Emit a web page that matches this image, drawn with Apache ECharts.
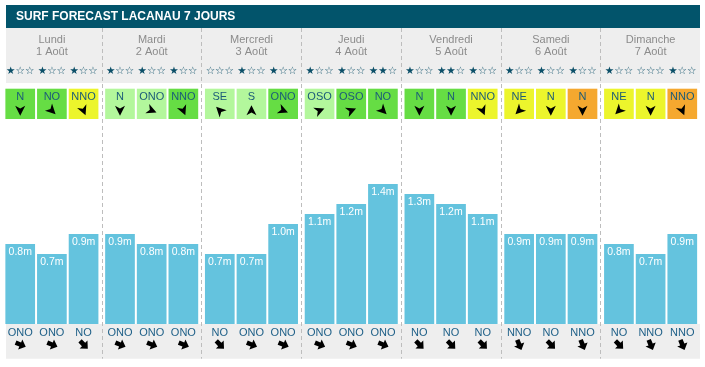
<!DOCTYPE html>
<html><head><meta charset="utf-8">
<script src="https://cdn.jsdelivr.net/npm/echarts@6/dist/echarts.min.js"></script>
<style>html,body{margin:0;padding:0;background:#fff}#c{width:705px;height:367px}</style>
</head><body><div id="c"></div>
<script>
// ---------- DATA ----------
const chartTitle = 'SURF FORECAST LACANAU 7 JOURS';
const days = ['Lundi', 'Mardi', 'Mercredi', 'Jeudi', 'Vendredi', 'Samedi', 'Dimanche'];
const dates = ['1 Août', '2 Août', '3 Août', '4 Août', '5 Août', '6 Août', '7 Août'];
// three forecast slots per day (21 values)
const waveHeights = [0.8, 0.7, 0.9, 0.9, 0.8, 0.8, 0.7, 0.7, 1.0, 1.1, 1.2, 1.4, 1.3, 1.2, 1.1, 0.9, 0.9, 0.9, 0.8, 0.7, 0.9];
const starRatings = [1, 1, 1, 1, 1, 1, 0, 1, 1, 1, 1, 2, 1, 2, 1, 1, 1, 1, 1, 0, 1];
const windDirs = ['N', 'NO', 'NNO', 'N', 'ONO', 'NNO', 'SE', 'S', 'ONO', 'OSO', 'OSO', 'NO', 'N', 'N', 'NNO', 'NE', 'N', 'N', 'NE', 'N', 'NNO'];
const windQuality = ['green', 'green', 'yellow', 'light', 'light', 'green', 'light', 'light', 'green', 'light', 'green', 'green', 'green', 'green', 'yellow', 'yellow', 'yellow', 'orange', 'yellow', 'yellow', 'orange'];
const swellDirs = ['ONO', 'ONO', 'NO', 'ONO', 'ONO', 'ONO', 'NO', 'ONO', 'ONO', 'ONO', 'ONO', 'ONO', 'NO', 'NO', 'NO', 'NNO', 'NO', 'NNO', 'NO', 'NNO', 'NNO'];

// ---------- STYLE ----------
const bearings = {N: 0, NNE: 22.5, NE: 45, ENE: 67.5, E: 90, ESE: 112.5, SE: 135, SSE: 157.5, S: 180, SSO: 202.5, SO: 225, OSO: 247.5, O: 270, ONO: 292.5, NO: 315, NNO: 337.5};
const windColors = {green: '#66dd44', light: '#b3f79c', yellow: '#ecf52c', orange: '#f5a82f'};
const BAR_PCT = 0.2975, GAP_PCT = 0.067;
const WIND_ARROW = 'M0,-5.2 L5,4.8 L0,2 L-5,4.8 Z';
const SWELL_ARROW = 'M0,-6 L5.5,0 L2.3,0 L2.3,5 L-2.3,5 L-2.3,0 L-5.5,0 Z';
const SLOTS = 3;

function arrowRot(dir) { return -((bearings[dir] + 180) % 360) * Math.PI / 180; }
function slotPos(api, i) {
  const d = Math.floor(i / SLOTS), s = i % SLOTS;
  const cx = api.coord([d, 0])[0];
  const bw = api.size([1, 0])[0] * BAR_PCT;
  return {x: cx + (s - 1) * bw * (1 + GAP_PCT), bw: bw};
}
const slotData = waveHeights.map((_, i) => [Math.floor(i / SLOTS), 0.5]);

const L = 2, R = 4.5;
const grids = [
  {left: L, right: R, top: 124, height: 200},      // bars
  {left: L, right: R, top: 88.7, height: 30.3},    // wind boxes
  {left: L, right: R, top: 28, height: 330.7},     // header + separators
  {left: L, right: R, top: 324, height: 34.7},     // swell direction band
  {left: L, right: R, top: 64, height: 14}         // stars
];
const xAxes = grids.map((g, k) => ({
  type: 'category', gridIndex: k, data: days, show: k === 2,
  position: 'top',
  axisLine: {show: false}, axisTick: {show: false},
  axisLabel: k === 2 ? {
    show: true, inside: true, margin: 6, interval: 0,
    color: '#8b8b8b', fontSize: 11, lineHeight: 12, fontFamily: 'Arial',
    formatter: (v, idx) => v + '\n' + dates[idx]
  } : {show: false},
  splitLine: k === 2 ? {
    show: true, interval: 0, showMinLine: false, showMaxLine: false,
    lineStyle: {color: '#bdbdbd', width: 1, type: [4, 3]}
  } : {show: false}
}));
const yAxes = grids.map((g, k) => ({
  type: 'value', gridIndex: k, show: false, min: 0, max: k === 0 ? 2 : 1
}));

const barSeries = [0, 1, 2].map(s => ({
  type: 'bar', xAxisIndex: 0, yAxisIndex: 0,
  data: days.map((_, d) => waveHeights[d * SLOTS + s]),
  barWidth: (BAR_PCT * 100) + '%', barGap: (GAP_PCT * 100) + '%',
  itemStyle: {color: '#64c3de'},
  label: {
    show: true, position: 'insideTop', distance: 3,
    color: '#ffffff', fontSize: 10.5, fontFamily: 'Arial',
    formatter: p => Number(p.value).toFixed(1) + 'm'
  }
}));

const windSeries = {
  type: 'custom', xAxisIndex: 1, yAxisIndex: 1, data: slotData,
  renderItem(params, api) {
    const i = params.dataIndex;
    const p = slotPos(api, i);
    const top = api.coord([0, 1])[1], bottom = api.coord([0, 0])[1];
    const h = bottom - top;
    return {type: 'group', children: [
      {type: 'rect', shape: {x: p.x - p.bw / 2, y: top, width: p.bw, height: h}, style: {fill: windColors[windQuality[i]]}},
      {type: 'text', x: p.x, y: top + 8.2, style: {text: windDirs[i], fill: '#1b5b78', fontSize: 11, fontFamily: 'Arial', align: 'center', verticalAlign: 'middle'}},
      {type: 'path', x: p.x, y: top + 21.8, rotation: arrowRot(windDirs[i]), shape: {pathData: WIND_ARROW}, style: {fill: '#000'}}
    ]};
  }
};

const swellSeries = {
  type: 'custom', xAxisIndex: 3, yAxisIndex: 3, data: slotData,
  renderItem(params, api) {
    const i = params.dataIndex;
    const p = slotPos(api, i);
    const top = api.coord([0, 1])[1];
    return {type: 'group', children: [
      {type: 'text', x: p.x, y: top + 8.5, style: {text: swellDirs[i], fill: '#1f6088', fontSize: 11, fontFamily: 'Arial', align: 'center', verticalAlign: 'middle'}},
      {type: 'path', x: p.x, y: top + 20.5, rotation: arrowRot(swellDirs[i]), shape: {pathData: SWELL_ARROW}, style: {fill: '#000'}}
    ]};
  }
};

const starSeries = {
  type: 'custom', xAxisIndex: 4, yAxisIndex: 4, data: slotData,
  renderItem(params, api) {
    const i = params.dataIndex;
    const p = slotPos(api, i);
    const y = api.coord([0, 0.5])[1];
    const n = starRatings[i];
    return {type: 'text', x: p.x, y: y, style: {
      text: '★'.repeat(n) + '☆'.repeat(3 - n), fill: '#0b4f68',
      fontSize: 10.5, fontFamily: 'DejaVu Sans', align: 'center', verticalAlign: 'middle'
    }};
  }
};

const chart = echarts.init(document.getElementById('c'), null, {renderer: 'canvas'});
chart.setOption({
  animation: false,
  backgroundColor: '#ffffff',
  title: {
    text: chartTitle, left: 16, top: 5, padding: 0,
    textStyle: {color: '#ffffff', fontSize: 12, fontWeight: 'bold', fontFamily: 'Arial', lineHeight: 23}
  },
  graphic: [
    {type: 'rect', z: -10, shape: {x: 6, y: 5, width: 694, height: 23}, style: {fill: '#02546b'}},
    {type: 'rect', z: -10, shape: {x: 6, y: 28, width: 694, height: 55}, style: {fill: '#eeeeee'}},
    {type: 'rect', z: -10, shape: {x: 6, y: 324, width: 694, height: 34.7}, style: {fill: '#eeeeee'}}
  ],
  grid: grids,
  xAxis: xAxes,
  yAxis: yAxes,
  series: [...barSeries, windSeries, swellSeries, starSeries]
});
</script></body></html>
